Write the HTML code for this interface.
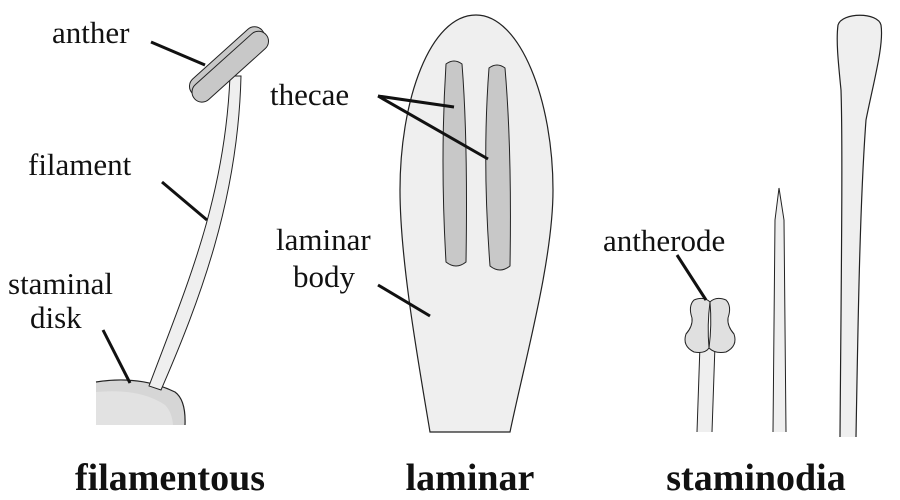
<!DOCTYPE html>
<html><head><style>body{margin:0;background:#fff}svg{display:block}svg text{font-family:"Liberation Serif","DejaVu Serif","Times New Roman",Times,serif !important}</style></head><body>
<svg width="900" height="500" viewBox="0 0 900 500" xmlns="http://www.w3.org/2000/svg">
<!-- filamentous -->
<path d="M96,382 Q140,375 175,392 Q186,400 185,425 L96,425 Z" fill="#d6d6d6"/>
<path d="M96,392 Q140,388 165,405 Q172,412 173,425 L96,425 Z" fill="#e2e2e2"/>
<path d="M96,382 Q140,375 175,392 Q186,400 185,425" fill="none" stroke="#222" stroke-width="1.2"/>
<path d="M149,386 C185,290 225,200 230,76 L241,76 C238,200 200,300 161,390 Z" fill="#efefef" stroke="#222" stroke-width="1"/>
<g transform="translate(231,66) rotate(-42)">
<rect x="-47" y="-16" width="94" height="20" rx="10" fill="#c8c8c8" stroke="#222" stroke-width="1"/>
<rect x="-49" y="-10" width="96" height="20" rx="10" fill="#c8c8c8" stroke="#222" stroke-width="1"/>
</g>
<!-- laminar -->
<path d="M430,432 C418,360 400,260 400,190 C400,100 430,15 476,15 C520,15 553,100 553,190 C553,260 525,360 510,432 Z" fill="#efefef" stroke="#222" stroke-width="1.2"/>
<path d="M446,64 Q454,58 462,64 Q468,140 466,262 Q456,270 446,262 Q440,160 446,64 Z" fill="#c8c8c8" stroke="#222" stroke-width="1"/>
<path d="M489,68 Q497,62 505,68 Q512,150 510,266 Q500,274 490,266 Q482,160 489,68 Z" fill="#c8c8c8" stroke="#222" stroke-width="1"/>
<!-- staminodia -->
<path d="M697,432 L700,345 L715,345 L712,432" fill="#efefef" stroke="#222" stroke-width="1"/>
<path d="M710,302 Q704,296 694,300 Q688,306 692,318 Q693,326 686,334 Q682,346 694,352 Q705,354 709,348 Q707,325 710,302 Z" fill="#e0e0e0" stroke="#222" stroke-width="1"/>
<path d="M710,302 Q716,296 726,300 Q732,306 728,318 Q727,326 734,334 Q738,346 726,352 Q715,354 709,348 Q712,325 710,302 Z" fill="#e0e0e0" stroke="#222" stroke-width="1"/>
<path d="M773,432 L775,220 L779,188 L784,220 L786,432" fill="#efefef" stroke="#222" stroke-width="1"/>
<path d="M840,437 C841,300 843,150 841,90 C838,60 836,40 838,25 C842,12 878,12 881,25 C884,45 874,80 866,120 C860,200 858,320 856,437" fill="#efefef" stroke="#222" stroke-width="1.2"/>
<!-- leader lines -->
<g stroke="#111" stroke-width="3">
<line x1="151" y1="42" x2="205" y2="65"/>
<line x1="162" y1="182" x2="207" y2="220"/>
<line x1="103" y1="330" x2="130" y2="383"/>
<line x1="378" y1="96" x2="454" y2="107"/>
<line x1="378" y1="96" x2="488" y2="159"/>
<line x1="378" y1="285" x2="430" y2="316"/>
<line x1="677" y1="255" x2="706" y2="300"/>
</g>
<g font-size="31" fill="#111" font-family="Liberation Serif, serif">
<text x="52" y="43">anther</text>
<text x="28" y="175">filament</text>
<text x="8" y="294">staminal</text>
<text x="30" y="328">disk</text>
<text x="270" y="105">thecae</text>
<text x="276" y="250">laminar</text>
<text x="293" y="287">body</text>
<text x="603" y="251">antherode</text>
</g>
<g font-size="38" font-weight="bold" fill="#111" text-anchor="middle" font-family="Liberation Serif, serif">
<text x="170" y="490">filamentous</text>
<text x="470" y="490">laminar</text>
<text x="756" y="490">staminodia</text>
</g>
</svg>
</body></html>
